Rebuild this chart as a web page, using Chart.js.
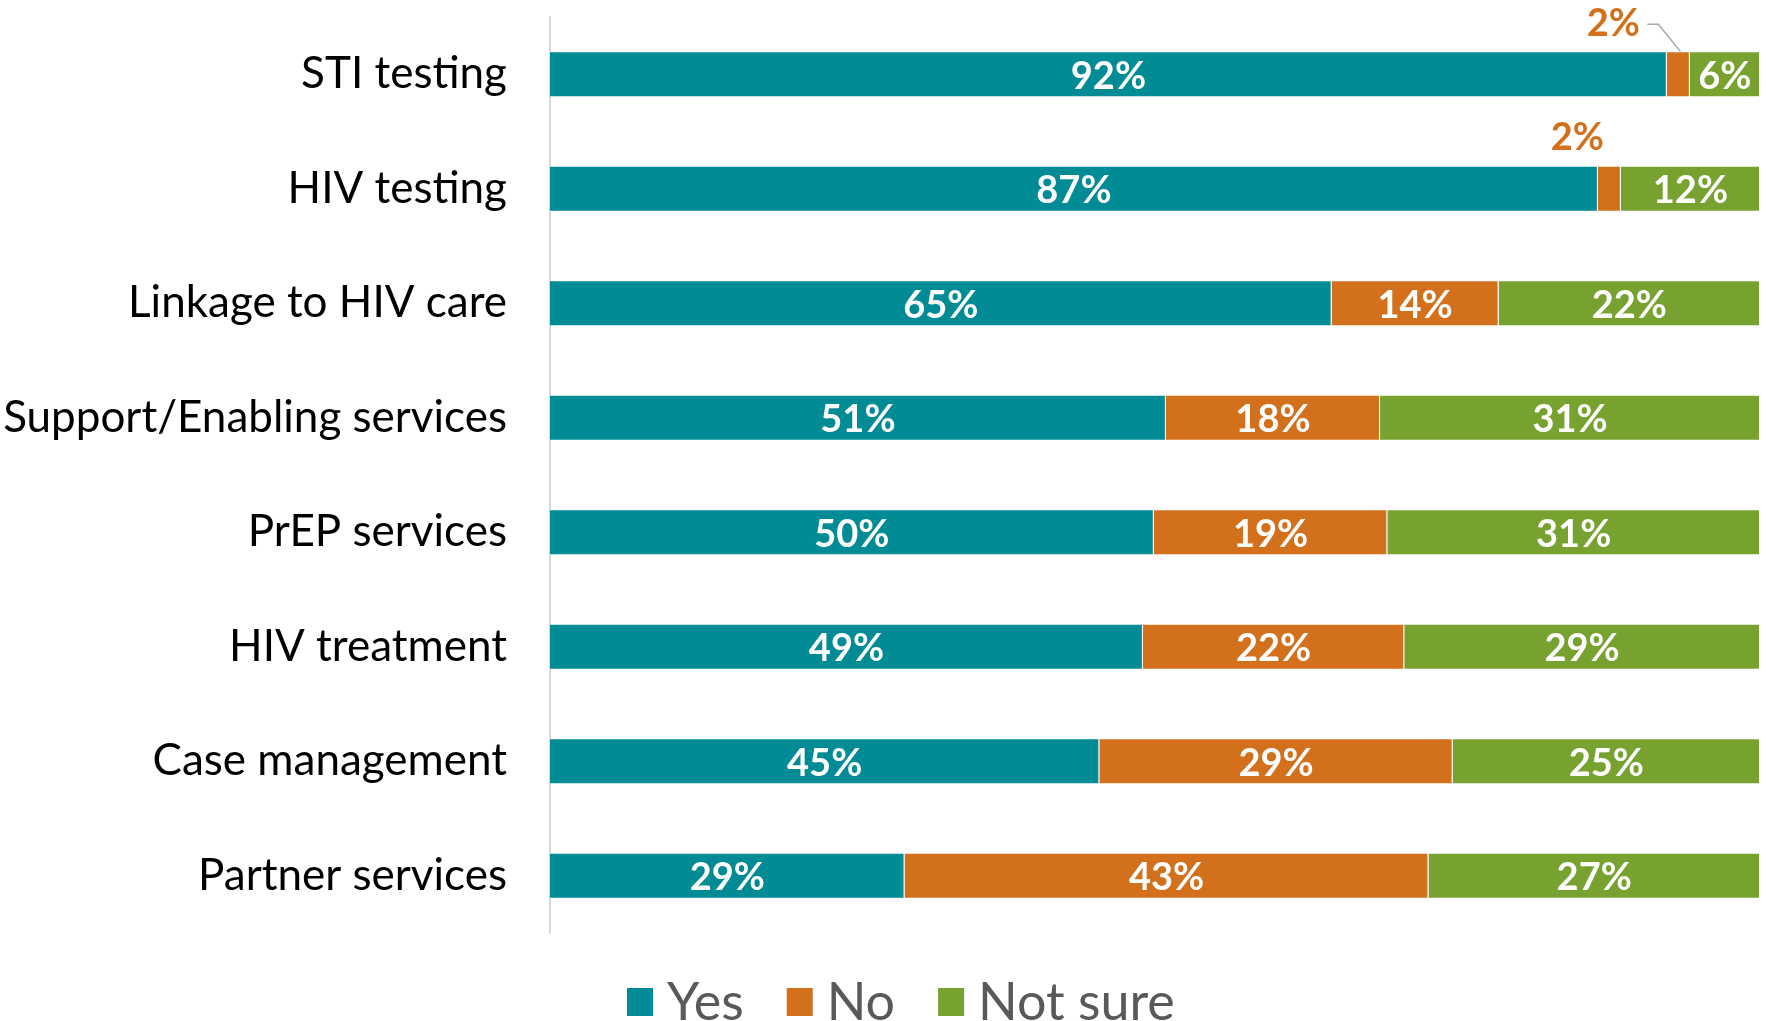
<!DOCTYPE html>
<html>
<head>
<meta charset="utf-8">
<script src="https://cdn.jsdelivr.net/npm/chart.js@4.4.1/dist/chart.umd.min.js"></script>
<style>
    html, body { margin: 0; padding: 0; background: #ffffff; }
    #wrap { width: 1766px; height: 1021px; position: relative; }
</style>
</head>
<body>
<div id="wrap"><canvas id="servicesChart" width="1766" height="1021"></canvas></div>
<script>
// Services categories (top to bottom)
const categories = ['STI testing', 'HIV testing', 'Linkage to HIV care', 'Support/Enabling services',
    'PrEP services', 'HIV treatment', 'Case management', 'Partner services'];

// Shares per answer (percent of respondents)
const yesValues = [92.3, 86.6, 64.6, 50.9, 49.9, 49.0, 45.4, 29.3];
const noValues = [1.9, 1.9, 13.8, 17.7, 19.3, 21.6, 29.2, 43.3];
const notSureValues = [5.8, 11.5, 21.6, 31.4, 30.8, 29.4, 25.4, 27.4];

const seriesNames = ['Yes', 'No', 'Not sure'];
const seriesColors = ['#008b95', '#d2701c', '#78a22f'];

const FONT = 'Lato, "Open Sans", sans-serif';

// Draw percentage labels on the segments
const segmentLabels = {
    id: 'segmentLabels',
    afterDatasetsDraw(chart) {
        const ctx = chart.ctx;
        ctx.save();
        ctx.textAlign = 'center';
        ctx.textBaseline = 'middle';
        ctx.font = 'bold 38px ' + FONT;
        chart.data.datasets.forEach((ds, di) => {
            const meta = chart.getDatasetMeta(di);
            meta.data.forEach((bar, i) => {
                const v = ds.data[i];
                const txt = Math.round(v) + '%';
                const cx = (bar.x + bar.base) / 2;
                if (v >= 4) {
                    ctx.fillStyle = '#ffffff';
                    ctx.fillText(txt, cx, bar.y + 2);
                } else {
                    // small segment: label sits above the bar
                    const shift = i === 0 ? -65 : -32;
                    const ly = bar.y - 51;
                    ctx.fillStyle = ds.backgroundColor;
                    ctx.fillText(txt, cx + shift, ly);
                    if (i === 0) {
                        ctx.strokeStyle = '#a6a6a6';
                        ctx.lineWidth = 1.5;
                        ctx.beginPath();
                        ctx.moveTo(cx + shift + 34, ly + 1);
                        ctx.lineTo(cx + shift + 45, ly + 1);
                        ctx.lineTo(cx + 2, bar.y - bar.height / 2);
                        ctx.stroke();
                    }
                }
            });
        });
        ctx.restore();
    }
};

// Legend drawn under the bars
const bottomLegend = {
    id: 'bottomLegend',
    afterDraw(chart) {
        const ctx = chart.ctx;
        ctx.save();
        ctx.font = '52px ' + FONT;
        ctx.textBaseline = 'middle';
        ctx.textAlign = 'left';
        let x = 627;
        const y = 1002;
        chart.data.datasets.forEach((ds) => {
            ctx.fillStyle = ds.backgroundColor;
            ctx.fillRect(x, y - 14, 26, 28);
            ctx.fillStyle = '#595959';
            ctx.fillText(ds.label, x + 40, y + 1);
            x += 40 + ctx.measureText(ds.label).width + 43;
        });
        ctx.restore();
    }
};

const allValues = [yesValues, noValues, notSureValues];

const ctx = document.getElementById('servicesChart').getContext('2d');
const servicesChart = new Chart(ctx, {
    type: 'bar',
    data: {
        labels: categories,
        datasets: allValues.map((vals, k) => ({
            label: seriesNames[k],
            data: vals,
            backgroundColor: seriesColors[k],
            borderColor: 'rgba(255,255,255,0.35)',
            borderWidth: 1,
            categoryPercentage: 1,
            barPercentage: 0.4
        }))
    },
    options: {
        indexAxis: 'y',
        responsive: false,
        animation: false,
        layout: {
            padding: { top: 17, bottom: 88, right: 6, left: 0 }
        },
        plugins: {
            legend: { display: false },
            tooltip: { enabled: false }
        },
        scales: {
            x: {
                stacked: true,
                min: 0,
                max: 100,
                display: false
            },
            y: {
                stacked: true,
                afterFit(scale) {
                    scale.width = 550;
                    scale.paddingTop = 0;
                    scale.paddingBottom = 0;
                },
                grid: { display: false, drawTicks: false },
                border: { display: true, color: '#d9d9d9', width: 2 },
                ticks: {
                    padding: 43,
                    color: '#000000',
                    font: { family: FONT, size: 44 }
                }
            }
        }
    },
    plugins: [segmentLabels, bottomLegend]
});
</script>
</body>
</html>
